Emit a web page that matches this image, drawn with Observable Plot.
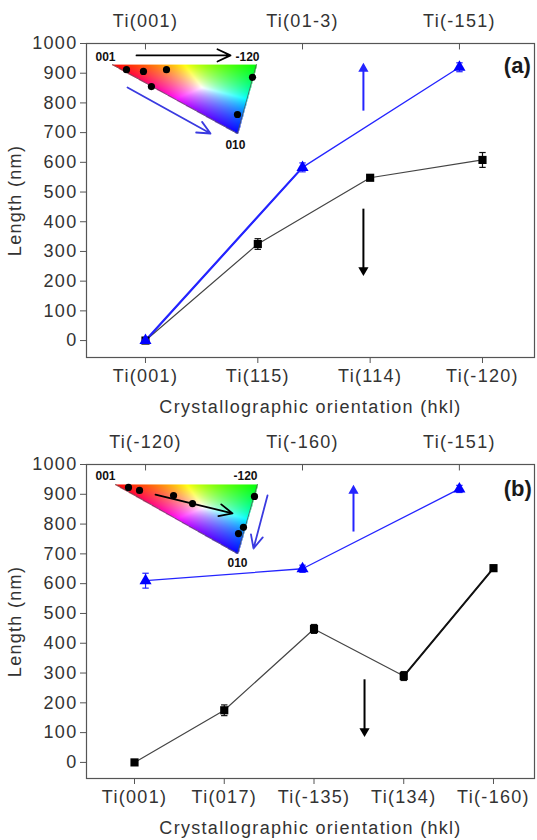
<!DOCTYPE html>
<html><head><meta charset="utf-8">
<script src="https://cdn.jsdelivr.net/npm/d3@7"></script>
<script src="https://cdn.jsdelivr.net/npm/@observablehq/plot@0.6"></script>
<style>
body{margin:0;background:#fff;}
#chart{width:537px;}
#chart svg{display:block;}
g[aria-label$="axis tick label"], g[aria-label$="axis label"]{letter-spacing:1.3px;}
</style></head><body><div id="chart"></div>
<script>
// ---------- Panel (a) ----------
const catsA = ["Ti(001)", "Ti(115)", "Ti(114)", "Ti(-120)"];
const blackA = [0, 325, 548, 608];
const blackErrA = [5, 18, 8, 25];
const topCatsA = ["Ti(001)", "Ti(01-3)", "Ti(-151)"];
const topPosA = [0, 1.398, 2.795];
const blueA = [0, 583, 920];
const blueErrA = [5, 15, 15];
const xDomainA = [-0.525, 3.463];

// ---------- Panel (b) ----------
const catsB = ["Ti(001)", "Ti(017)", "Ti(-135)", "Ti(134)", "Ti(-160)"];
const blackB = [0, 175, 448, 290, 652];
const blackErrB = [5, 18, 15, 15, 10];
const topCatsB = ["Ti(-120)", "Ti(-160)", "Ti(-151)"];
const topPosB = [0.123, 1.872, 3.62];
const blueB = [610, 650, 918];
const blueErrB = [25, 12, 12];
const xDomainB = [-0.535, 4.457];

const yTicks = [0, 100, 200, 300, 400, 500, 600, 700, 800, 900, 1000];
const yDomainA = [-57, 1000];
const yDomainB = [-54, 1000];

// Inset (inverse pole figure triangle), in data units of each panel
const triA = [[-0.294, 929], [0.988, 929], [0.819, 697]];          // 001, -120, 010
const triLabelsA = [["001", -0.356, 953], ["-120", 0.908, 953], ["010", 0.801, 657]];
const triDotsA = [[-0.169, 912], [-0.018, 906], [0.187, 912], [0.053, 855], [0.953, 886], [0.819, 761]];
const insetBlackArrowA = [-0.080, 960, 0.757, 960];
const insetBlueArrowA = [-0.160, 852, 0.579, 697];
const bigBlueArrowA = [1.94, 774, 933];
const bigBlackArrowA = [1.94, 444, 219];
const tagA = ["(a)", 3.31, 926];

const triB = [[-0.212, 933], [1.370, 933], [1.148, 701]];
const triLabelsB = [["001", -0.323, 960], ["-120", 1.237, 960], ["010", 1.148, 668]];
const triDotsB = [[-0.067, 923], [0.056, 913], [0.435, 896], [0.646, 869], [1.337, 893], [1.214, 789], [1.159, 768]];
const insetBlackArrowB = [0.234, 899, 1.092, 836];
const insetBlueArrowB = [1.482, 896, 1.326, 718];
const bigBlueArrowB = [2.44, 775, 930];
const bigBlackArrowB = [2.563, 279, 87];
const tagB = ["(b)", 4.27, 919];

const FONT = "'Liberation Sans', Arial, Helvetica, sans-serif";
const BLUE = "#2424ff";
const capSymbol = {draw(ctx, size) { const r = Math.sqrt(size / Math.PI); ctx.moveTo(-r, 0); ctx.lineTo(r, 0); }};

function ipfColor(tri) {
  const [[ax, ay], [bx, by], [cx, cy]] = tri;
  const det = (by - cy) * (ax - cx) + (cx - bx) * (ay - cy);
  return (x, y) => {
    const l1 = ((by - cy) * (x - cx) + (cx - bx) * (y - cy)) / det;
    const l2 = ((cy - ay) * (x - cx) + (ax - cx) * (y - cy)) / det;
    const l3 = 1 - l1 - l2;
    if (l1 < -0.005 || l2 < -0.005 || l3 < -0.005) return null;
    const c = [l1, l2, l3].map(v => Math.pow(Math.max(0, v), 0.8));
    const m = Math.max(...c) || 1;
    return `rgb(${Math.round(255 * c[0] / m)},${Math.round(255 * c[1] / m)},${Math.round(255 * c[2] / m)})`;
  };
}

function panel(p) {
  const black = p.black.map((v, i) => ({x: i, y: v, e: p.blackErr[i]}));
  const blue = p.blue.map((v, i) => ({x: p.topPos[i], y: v, e: p.blueErr[i]}));
  const tri = p.tri;
  const xs = tri.map(d => d[0]), ys = tri.map(d => d[1]);
  const headOff = 18;
  const bigArrows = [
    {x: p.bigBlue[0], y1: p.bigBlue[1], y2: p.bigBlue[2], c: BLUE, up: true},
    {x: p.bigBlack[0], y1: p.bigBlack[1], y2: p.bigBlack[2], c: "#000", up: false}
  ];
  const errMarks = (data, color) => [
    Plot.link(data, {x1: "x", x2: "x", y1: d => d.y - d.e, y2: d => d.y + d.e, stroke: color, strokeWidth: 1.2}),
    Plot.dot(data, {x: "x", y: d => d.y - d.e, symbol: capSymbol, r: 3.2, stroke: color, strokeWidth: 1.2, fill: "none"}),
    Plot.dot(data, {x: "x", y: d => d.y + d.e, symbol: capSymbol, r: 3.2, stroke: color, strokeWidth: 1.2, fill: "none"})
  ];
  return Plot.plot({
    width: 537, height: 420,
    marginLeft: 86, marginRight: 3, marginTop: p.mt, marginBottom: 420 - p.mt - 314,
    x: {type: "linear", domain: p.xDomain},
    y: {domain: p.yDomain},
    color: {type: "identity"},
    style: {fontFamily: FONT, fontSize: "18px", color: "#333", background: "#fff"},
    marks: [
      // inset triangle
      Plot.raster({x1: Math.min(...xs), x2: Math.max(...xs), y1: Math.max(...ys), y2: Math.min(...ys), fill: ipfColor(tri)}),
      Plot.line([tri[0], tri[2], tri[1]], {x: d => d[0], y: d => d[1], stroke: "#555", strokeWidth: 0.8}),
      Plot.dot(p.triDots, {x: d => d[0], y: d => d[1], r: 3.6, fill: "#000"}),
      Plot.text(p.triLabels, {x: d => d[1], y: d => d[2], text: d => d[0], fontSize: 12, fontWeight: "bold", fill: "#111"}),
      Plot.arrow([p.insetBlack], {x1: d => d[0], y1: d => d[1], x2: d => d[2], y2: d => d[3], stroke: "#000", strokeWidth: 1.8, headLength: 12, headAngle: 50}),
      Plot.arrow([p.insetBlue], {x1: d => d[0], y1: d => d[1], x2: d => d[2], y2: d => d[3], stroke: "#3a3ae0", strokeWidth: 1.8, headLength: 12, headAngle: 50}),
      // error bars
      ...errMarks(black, "#111"),
      ...errMarks(blue, BLUE),
      // lines
      Plot.line(black, {x: "x", y: "y", stroke: "#444", strokeWidth: 1.2}),
      Plot.line(blue, {x: "x", y: "y", stroke: BLUE, strokeWidth: 1.3}),
      ...(p.thickBlue ? [Plot.line(blue.slice(0, 2), {x: "x", y: "y", stroke: BLUE, strokeWidth: 2.2})] : []),
      ...(p.thickBlack ? [Plot.line(black.slice(-2), {x: "x", y: "y", stroke: "#111", strokeWidth: 2})] : []),
      // markers
      Plot.dot(black, {x: "x", y: "y", symbol: "square", r: 4.6, fill: "#000"}),
      Plot.dot(blue, {x: "x", y: "y", symbol: "triangle", r: 4.5, fill: "#0000ff"}),
      // big arrows
      Plot.link(bigArrows, {x1: "x", x2: "x", y1: "y1", y2: d => d.up ? d.y2 - headOff : d.y2 + headOff, stroke: "c", strokeWidth: 2}),
      Plot.dot(bigArrows, {x: "x", y: d => d.up ? d.y2 - headOff : d.y2 + headOff, symbol: "triangle", r: 3.8, fill: "c", rotate: d => d.up ? 0 : 180}),
      // panel tag
      Plot.text([p.tag], {x: d => d[1], y: d => d[2], text: d => d[0], fontSize: 22, fontWeight: "bold", fill: "#1a1a1a"}),
      // axes
      Plot.axisY({ticks: yTicks, tickFormat: d => String(d), tickSize: 6, tickPadding: 3, stroke: "#555", label: "Length (nm)", labelAnchor: "center", labelOffset: 78, labelArrow: false}),
      Plot.axisX({anchor: "bottom", ticks: p.cats.map((_, i) => i), tickFormat: d => p.cats[Math.round(d)], tickSize: 6, tickPadding: 6, stroke: "#555",
        label: "Crystallographic orientation (hkl)", labelAnchor: "center", labelOffset: 55, labelArrow: false}),
      Plot.axisX({anchor: "top", ticks: p.topPos, tickFormat: d => p.topCats[p.topPos.indexOf(d)], tickSize: 0, tickPadding: 17, label: null}),
      Plot.link(p.topPos, {x1: d => d, x2: d => d, y1: 1000, y2: 980, stroke: "#555"}),
      Plot.frame({stroke: "#555", strokeWidth: 1.2})
    ]
  });
}

const chart = document.getElementById("chart");
chart.append(panel({
  cats: catsA, black: blackA, blackErr: blackErrA, topCats: topCatsA, topPos: topPosA, blue: blueA, blueErr: blueErrA,
  xDomain: xDomainA, yDomain: yDomainA, mt: 43,
  tri: triA, triLabels: triLabelsA, triDots: triDotsA, insetBlack: insetBlackArrowA, insetBlue: insetBlueArrowA,
  bigBlue: bigBlueArrowA, bigBlack: bigBlackArrowA, tag: tagA, thickBlue: true, thickBlack: false
}));
chart.append(panel({
  cats: catsB, black: blackB, blackErr: blackErrB, topCats: topCatsB, topPos: topPosB, blue: blueB, blueErr: blueErrB,
  xDomain: xDomainB, yDomain: yDomainB, mt: 44,
  tri: triB, triLabels: triLabelsB, triDots: triDotsB, insetBlack: insetBlackArrowB, insetBlue: insetBlueArrowB,
  bigBlue: bigBlueArrowB, bigBlack: bigBlackArrowB, tag: tagB, thickBlue: false, thickBlack: true
}));
</script></body></html>
